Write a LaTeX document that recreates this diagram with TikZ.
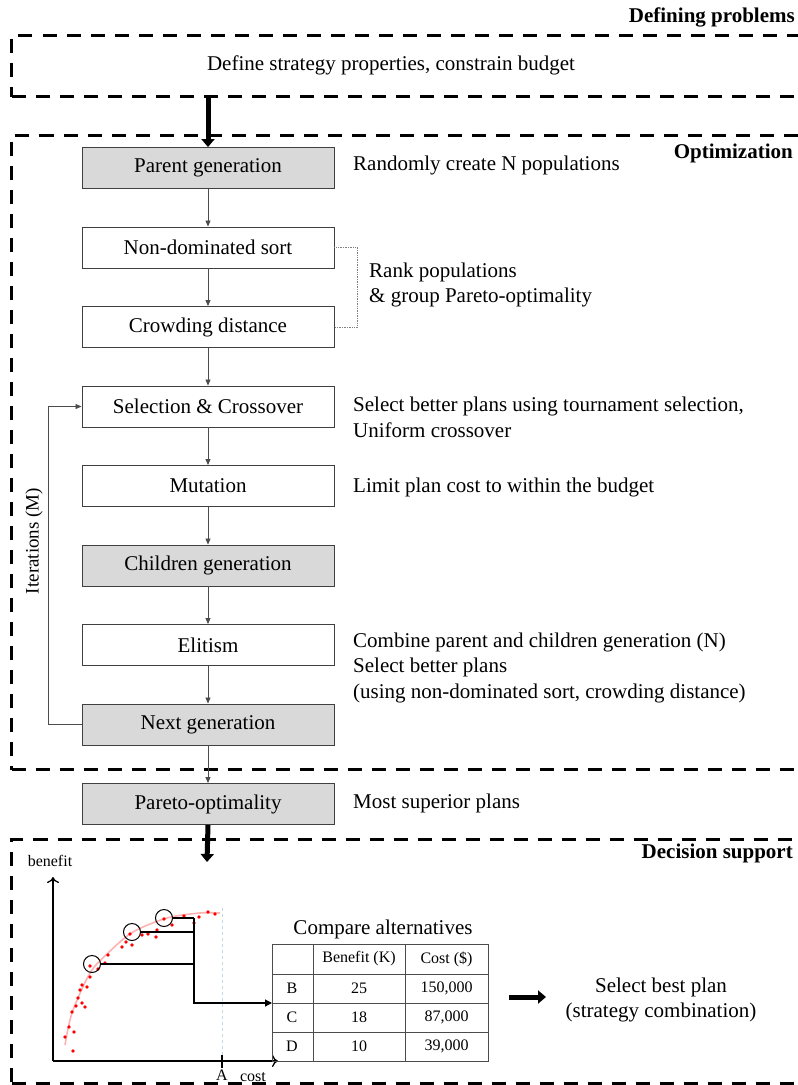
\documentclass[tikz,border=0pt]{standalone}
\usepackage{fontspec}
\setmainfont{Liberation Serif}
\usetikzlibrary{arrows.meta}
\begin{document}
\begin{tikzpicture}[x=1pt,y=-1pt,
  proc/.style={draw=black!75, line width=0.9pt, minimum width=252pt, minimum height=41pt, inner sep=0pt, font=\fontsize{21}{25}\selectfont},
  gproc/.style={proc, fill=gray!30},
  note/.style={anchor=west, align=left, inner sep=0pt, font=\fontsize{21}{25.5}\selectfont},
  head/.style={anchor=east, inner sep=0pt, font=\fontsize{21}{25}\selectfont\bfseries},
  flow/.style={draw=black!70, line width=0.8pt, -{Triangle[length=6pt,width=5pt]}},
  bigarrow/.style={line width=5pt, -{Triangle[length=8pt,width=13pt]}},
  phase/.style={draw, line width=3pt, dash pattern=on 14pt off 10pt, anchor=north west, inner sep=0pt},
  tbl/.style={draw=black!70, line width=0.8pt},
  ttxt/.style={inner sep=0pt, font=\fontsize{16}{19}\selectfont},
  dot/.style={fill=red, draw=none},
]
\useasboundingbox (0,0) rectangle (798,1085);
\clip (0,0) rectangle (798,1085);

% phase boxes
\node[phase, minimum width=820pt, minimum height=61pt] (def) at (10,34) {};
\node[phase, minimum width=820pt, minimum height=634pt] (opt) at (10,134) {};
\node[phase, minimum width=820pt, minimum height=244pt] (dec) at (10,838) {};

\node[head] (hdef) at (795,17) {Defining problems};
\node[head] (hopt) at (793,153) {Optimization};
\node[head] (hdec) at (793,853) {Decision support};

\node[inner sep=0pt, font=\fontsize{21}{25}\selectfont] (deftxt) at (391,65) {Define strategy properties, constrain budget};

% process boxes
\node[gproc] (par) at (208,168) {Parent generation};
\node[proc]  (nds) at (208,247.5) {Non-dominated sort};
\node[proc]  (cd)  at (208,327) {Crowding distance};
\node[proc]  (sel) at (208,406.5) {Selection \& Crossover};
\node[proc]  (mut) at (208,486) {Mutation};
\node[gproc] (chi) at (208,565.5) {Children generation};
\node[proc]  (eli) at (208,645) {Elitism};
\node[gproc] (nxt) at (208,724.5) {Next generation};
\node[gproc] (po)  at (208,804) {Pareto-optimality};

\draw[bigarrow] (def.south -| par.north) -- (par.north);
\draw[flow] (par) -- (nds);
\draw[flow] (nds) -- (cd);
\draw[flow] (cd) -- (sel);
\draw[flow] (sel) -- (mut);
\draw[flow] (mut) -- (chi);
\draw[flow] (chi) -- (eli);
\draw[flow] (eli) -- (nxt);
\draw[flow] (nxt) -- (po);
\draw[flow] (nxt.west) -- ++(-33,0) |- (sel.west);
\node[rotate=90, inner sep=0pt, font=\fontsize{19}{23}\selectfont] (iter) at (34,541) {Iterations (M)};

\draw[gray, densely dotted, line width=0.7pt] (nds.east) -- ++(23,0) |- (cd.east);

% notes
\node[note] (n1) at (353,165) {Randomly create N populations};
\node[note] (n2) at (369,285) {Rank populations\\\& group Pareto-optimality};
\node[note] (n3) at (353,417.5) {Select better plans using tournament selection,\\Uniform crossover};
\node[note] (n4) at (353,487) {Limit plan cost to within the budget};
\node[note] (n5) at (353,667.5) {Combine parent and children generation (N)\\Select better plans\\(using non-dominated sort, crowding distance)};
\node[note] (n6) at (353,803) {Most superior plans};

\coordinate (dsin) at (207,862);
\draw[bigarrow] (po.south) -- (dsin);

% chart
\node[ttxt] (benefit) at (50,861) {benefit};
\draw[line width=1.3pt, -{To[length=6pt,width=12pt]}] (53,1061) -- (53,877);
\draw[line width=1.3pt, -{To[length=6pt,width=12pt]}] (53,1061) -- (278,1061);
\draw[cyan!40!gray!40, line width=0.8pt, dashed] (222,908) -- (222,1058);
\draw[line width=1.2pt] (222,1055) -- (222,1068);
\node[ttxt] (lA) at (222,1075) {A};
\node[ttxt] (lcost) at (253,1077) {cost};
\draw[red!30, line width=1.6pt] plot[smooth] coordinates {(65,1045) (72,1013) (90,973) (108,953) (133,932) (167,918) (200,913) (220,913)};
\foreach \p in {(65,1037),(73,1051),(69,1027),(74,1032),(72,1012),(76,1006),(78,998),(80,990),(82,985),(82,1003),(85,1007),(87,987),(90,977),(90,966),(98,969),(105,963),(108,955),(122,947),(126,942),(132,945),(130,934),(142,935),(148,934),(156,937),(157,930),(164,919),(172,925),(184,916),(194,923),(199,917),(208,912),(215,914)}
  \fill[dot] \p circle (1.9pt);
\draw[line width=1pt] (92,964) circle (8.5pt);
\draw[line width=1pt] (132,932) circle (8.5pt);
\draw[line width=1pt] (164,918) circle (8.5pt);
\draw[line width=1.2pt] (172,918) -- (194,918);
\draw[line width=1.2pt] (140,932) -- (194,932);
\draw[line width=1.2pt] (100,964) -- (194,964);
\coordinate (tblB) at (272,1003);
\draw[line width=1.2pt, -{Triangle[length=7pt,width=7pt]}] (194,918) -- (194,1003) -- (tblB);

% table
\node[inner sep=0pt, font=\fontsize{21}{25}\selectfont] (cmp) at (383,929) {Compare alternatives};
\draw[tbl] (272,944) rectangle (488,1061);
\foreach \yy in {974,1003,1032} \draw[tbl] (272,\yy) -- (488,\yy);
\foreach \xx in {313,405} \draw[tbl] (\xx,944) -- (\xx,1061);
\node[ttxt] (hb) at (359,959) {Benefit (K)};
\node[ttxt] (hc) at (446.5,959) {Cost (\$)};
\node[ttxt] (rb) at (292,988.5) {B};
\node[ttxt] (rc) at (292,1017.5) {C};
\node[ttxt] (rd) at (292,1046.5) {D};
\node[ttxt] (b1) at (359,988.5) {25};
\node[ttxt] (b2) at (359,1017.5) {18};
\node[ttxt] (b3) at (359,1046.5) {10};
\node[ttxt] (c1) at (446.5,988.5) {150,000};
\node[ttxt] (c2) at (446.5,1017.5) {87,000};
\node[ttxt] (c3) at (446.5,1046.5) {39,000};

\coordinate (ba1) at (509,997);
\node[align=center, inner sep=0pt, font=\fontsize{21}{25}\selectfont] (best) at (661,1000) {Select best plan\\(strategy combination)};
\draw[bigarrow] (ba1) -- (546,997);
\end{tikzpicture}
\end{document}
